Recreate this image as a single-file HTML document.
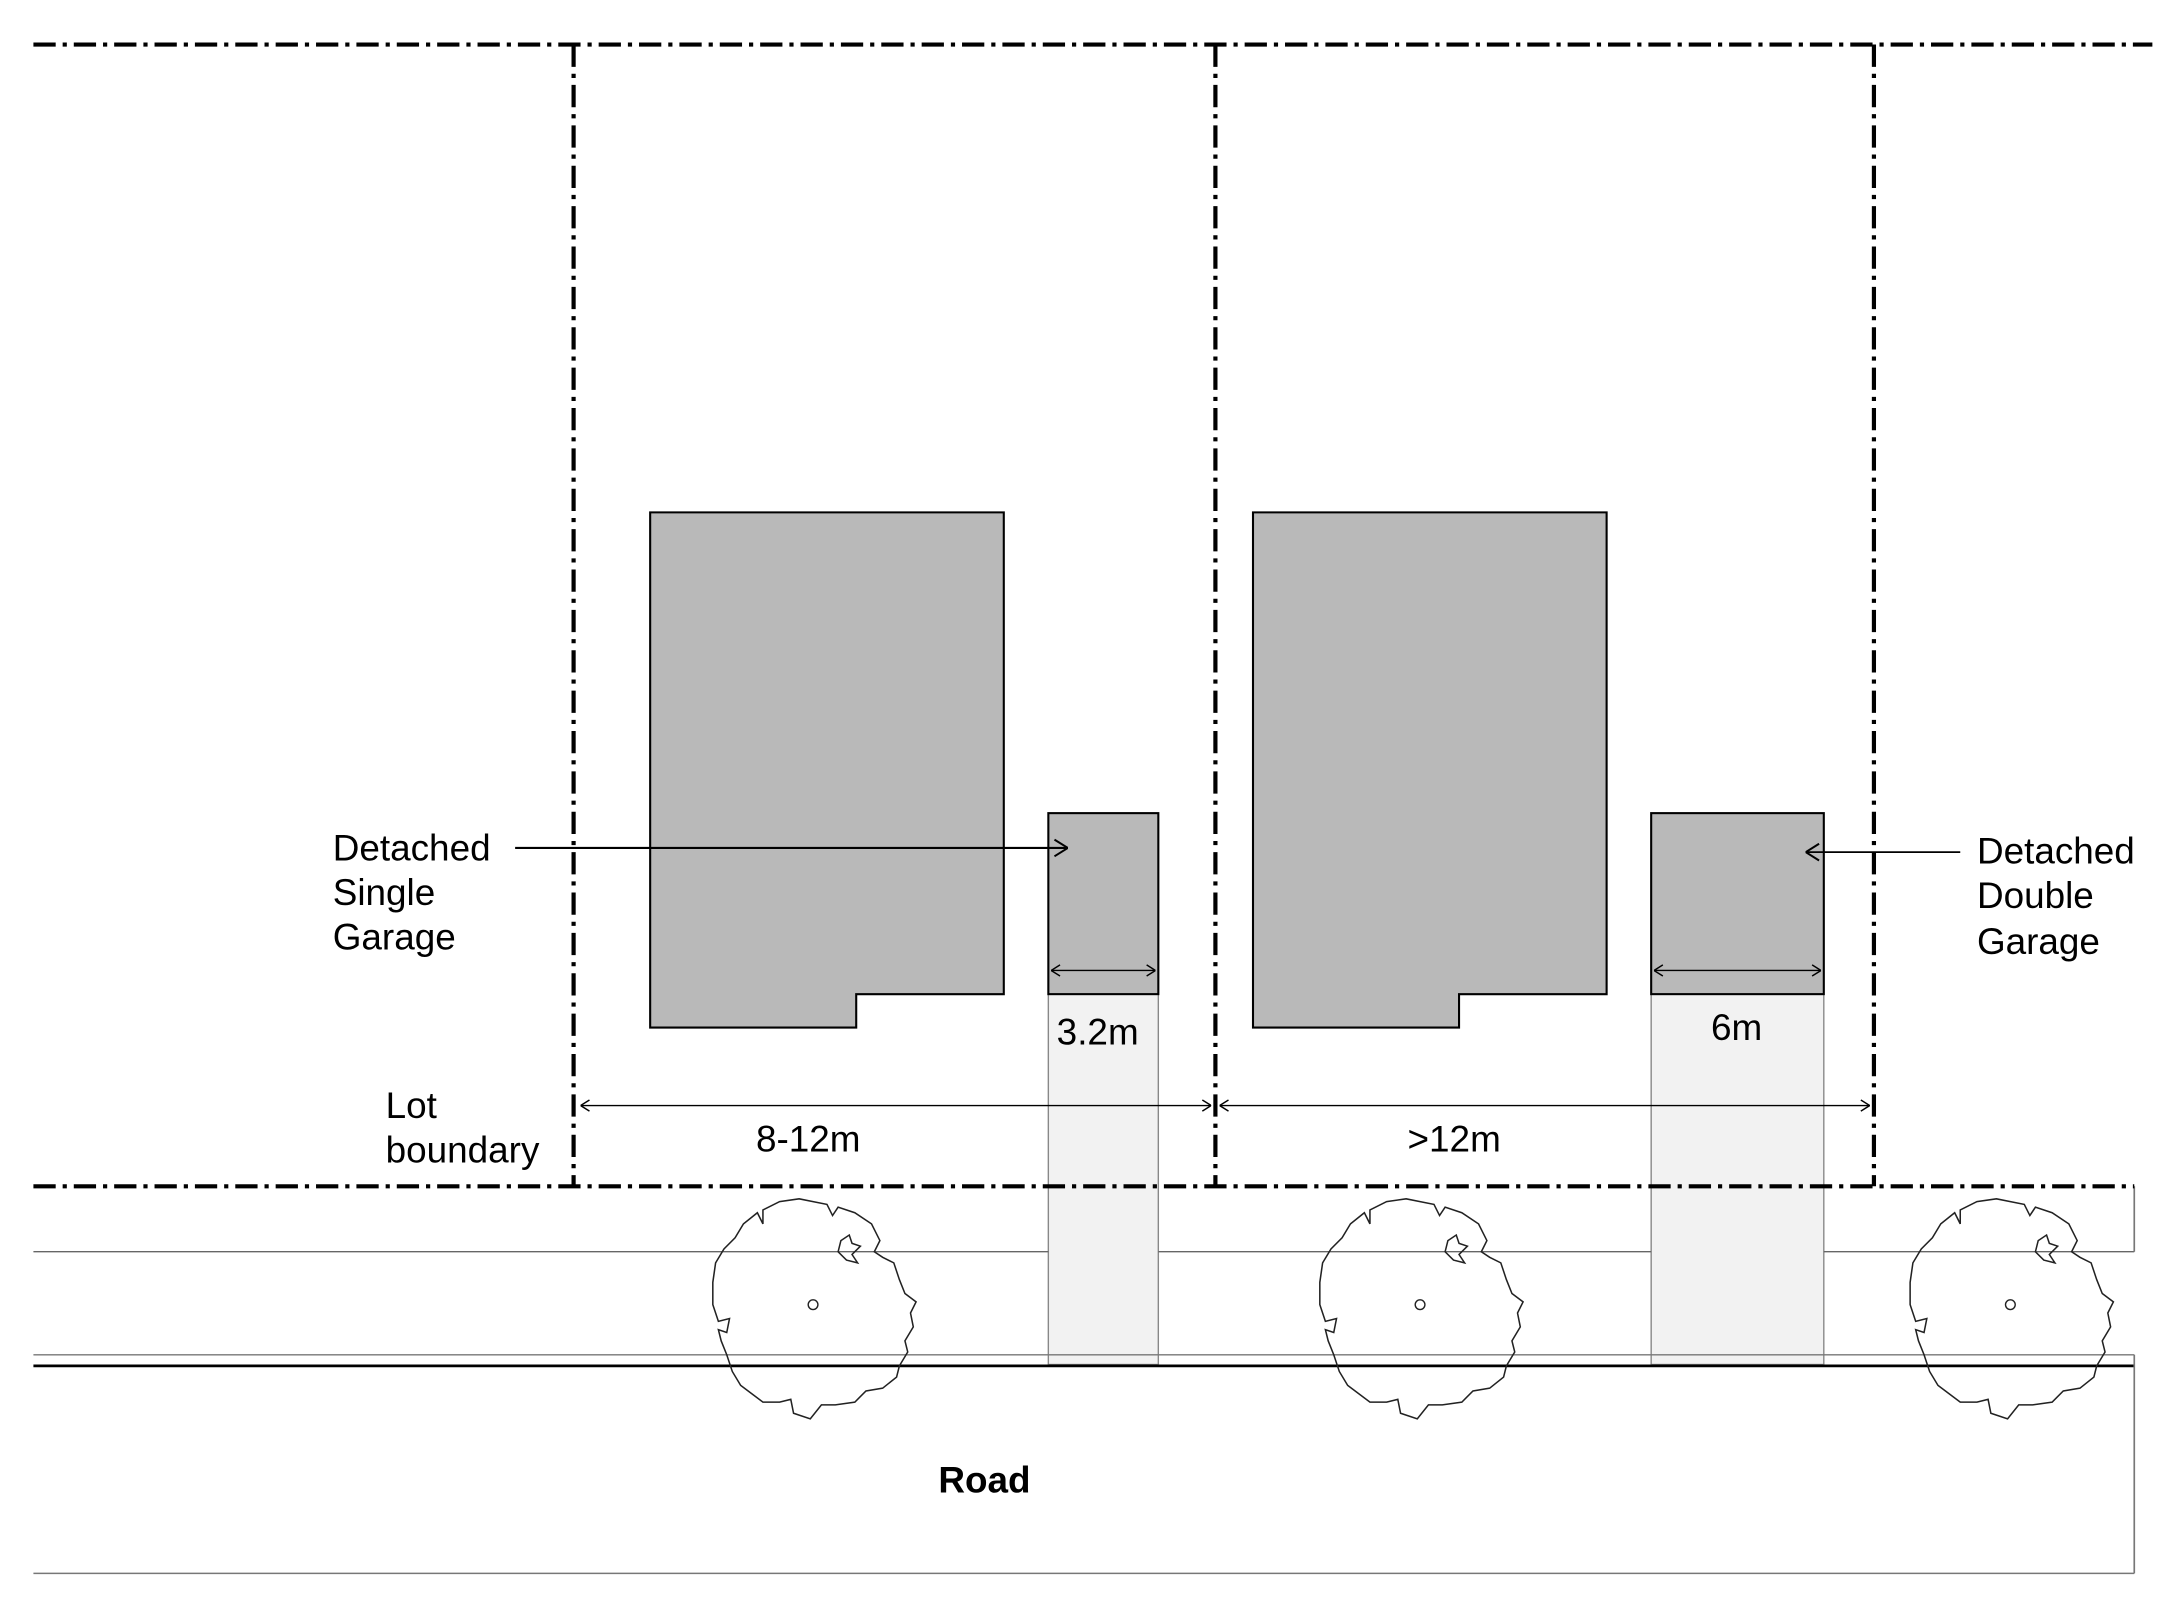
<!DOCTYPE html>
<html><head><style>html,body{margin:0;padding:0;background:#fff}svg{display:block}</style></head>
<body>
<svg width="2183" height="1604" viewBox="0 0 1568 1152" preserveAspectRatio="none" xmlns="http://www.w3.org/2000/svg" font-family="Liberation Sans, Arial, sans-serif">
<defs>
<marker id="a" viewBox="0 0 10 10" refX="10" refY="5" markerWidth="12" markerHeight="16" orient="auto-start-reverse" markerUnits="userSpaceOnUse"><path d="M2 0 L10 5 L2 10" fill="none" stroke="#000" stroke-width="1.2"/></marker>
<marker id="s" viewBox="0 0 10 10" refX="10" refY="5" markerWidth="8" markerHeight="10" orient="auto-start-reverse" markerUnits="userSpaceOnUse"><path d="M2 0 L10 5 L2 10" fill="none" stroke="#000" stroke-width="1.3"/></marker>
<g id="tree"><path d="M0 -74 L10 -72 L14 -64 L18 -70 L30 -66 L42 -58 L48 -46 L44 -38 L50 -34 L58 -30 L62 -18 L66 -8 L74 -2 L70 6 L72 16 L66 26 L68 34 L62 44 L60 52 L50 60 L38 62 L30 70 L16 72 L6 72 L-2 82 L-14 78 L-16 68 L-24 70 L-36 70 L-44 64 L-52 58 L-58 48 L-62 36 L-66 26 L-68 18 L-62 20 L-60 10 L-68 12 L-72 0 L-72 -16 L-70 -30 L-64 -40 L-56 -48 L-50 -58 L-40 -66 L-36 -58 L-36 -68 L-24 -74 L-10 -76 Z M20 -46 L26 -50 L28 -44 L34 -42 L28 -36 L32 -30 L24 -32 L18 -38 Z" fill="none" stroke="#222" stroke-width="1.1"/><circle cx="0" cy="0" r="3.5" fill="none" stroke="#222" stroke-width="1"/></g>
</defs>
<rect x="753" y="714" width="79" height="266" fill="#f2f2f2" stroke="#888" stroke-width="1"/>
<rect x="1186" y="714" width="124" height="266" fill="#f2f2f2" stroke="#888" stroke-width="1"/>
<line x1="24" y1="899" x2="753" y2="899" stroke="#666" stroke-width="1"/>
<line x1="832" y1="899" x2="1186" y2="899" stroke="#666" stroke-width="1"/>
<line x1="1310" y1="899" x2="1533" y2="899" stroke="#666" stroke-width="1"/>
<line x1="24" y1="973" x2="1533" y2="973" stroke="#777" stroke-width="1"/>
<line x1="24" y1="981" x2="1533" y2="981" stroke="#000" stroke-width="2"/>
<line x1="1533" y1="852" x2="1533" y2="899" stroke="#777" stroke-width="1.2"/>
<line x1="1533" y1="973" x2="1533" y2="1130" stroke="#777" stroke-width="1.2"/>
<line x1="24" y1="1130" x2="1533" y2="1130" stroke="#777" stroke-width="1"/>
<use href="#tree" x="584" y="937"/>
<use href="#tree" x="1020" y="937"/>
<use href="#tree" x="1444" y="937"/>
<path d="M467 368 H721 V714 H615 V738 H467 Z" fill="#b9b9b9" stroke="#000" stroke-width="1.5"/>
<path d="M900 368 H1154 V714 H1048 V738 H900 Z" fill="#b9b9b9" stroke="#000" stroke-width="1.5"/>
<rect x="753" y="584" width="79" height="130" fill="#b9b9b9" stroke="#000" stroke-width="1.5"/>
<rect x="1186" y="584" width="124" height="130" fill="#b9b9b9" stroke="#000" stroke-width="1.5"/>
<g stroke="#000" stroke-width="3" stroke-dasharray="16 5 3 5" fill="none">
<line x1="24" y1="32" x2="1546" y2="32"/>
<line x1="24" y1="852" x2="1533" y2="852"/>
<line x1="412" y1="32" x2="412" y2="852"/>
<line x1="873" y1="32" x2="873" y2="852"/>
<line x1="1346" y1="32" x2="1346" y2="852"/>
</g>
<g stroke="#000" stroke-width="1" fill="none">
<line x1="417" y1="794" x2="870" y2="794" marker-start="url(#s)" marker-end="url(#s)"/>
<line x1="876" y1="794" x2="1343" y2="794" marker-start="url(#s)" marker-end="url(#s)"/>
<line x1="755" y1="697" x2="830" y2="697" marker-start="url(#s)" marker-end="url(#s)"/>
<line x1="1188" y1="697" x2="1308" y2="697" marker-start="url(#s)" marker-end="url(#s)"/>
<line x1="370" y1="609" x2="767" y2="609" stroke-width="1.5" marker-end="url(#a)"/>
<line x1="1408" y1="612" x2="1297" y2="612" stroke-width="1.3" marker-end="url(#a)"/>
</g>
<g font-size="26.5" fill="#000">
<text x="239" y="618">Detached</text>
<text x="239" y="650">Single</text>
<text x="239" y="682">Garage</text>
<text x="1420" y="620">Detached</text>
<text x="1420" y="652">Double</text>
<text x="1420" y="685">Garage</text>
<text x="277" y="803">Lot</text>
<text x="277" y="835">boundary</text>
<text x="543" y="827">8-12m</text>
<text x="1011" y="827">&gt;12m</text>
<text x="759" y="750">3.2m</text>
<text x="1229" y="747">6m</text>
<text x="674" y="1072" font-weight="bold">Road</text>
</g>
</svg>
</body></html>
